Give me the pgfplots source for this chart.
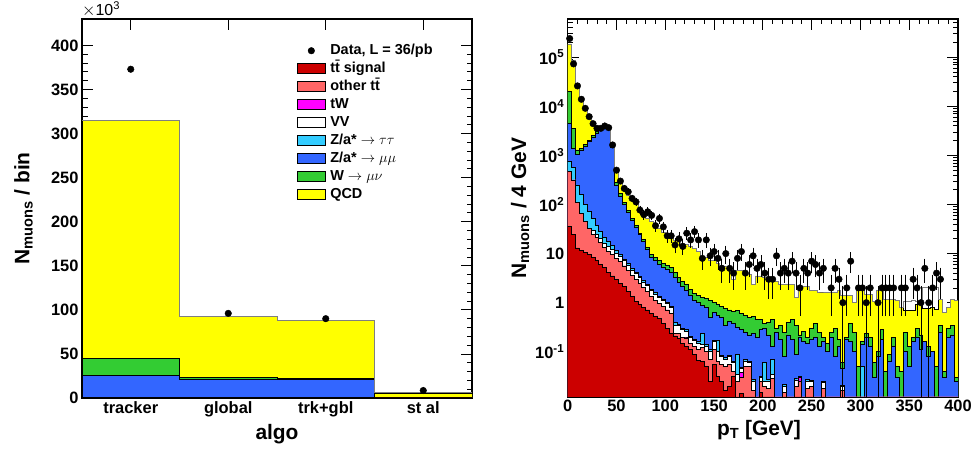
\documentclass[border=0pt]{standalone}
\usepackage{fontspec}
\setmainfont{Liberation Sans}
\usepackage{pgfplots}
\usepackage{pgfplotstable}
\pgfplotsset{compat=1.18}
\definecolor{cSig}{HTML}{CC0000}
\definecolor{cOtt}{HTML}{FF6666}
\definecolor{cTW}{HTML}{FF00FF}
\definecolor{cZtt}{HTML}{33CCFF}
\definecolor{cZmm}{HTML}{3366FF}
\definecolor{cW}{HTML}{33CC33}
\definecolor{cQCD}{HTML}{FFFF00}
\definecolor{cTot}{HTML}{7F7F7F}

\pgfplotstableread{
x T Y G B R
-0.5 315 315 44.5 26 0.8
0.5 92.5 92.5 23.5 21.5 0.2
1.5 87.5 87.5 22 21 0.2
2.5 6.3 4.8 0.4 0.3 0.05
3.5 6.3 4.8 0.4 0.3 0.05
}\algo

\pgfplotstableread{
x T Y G B L V M S R
0 186000 186000 20000 4470 740 470 470 470 35
4 85000 85000 3500 1380 560 316 316 316 25
8 29500 29500 1290 1050 250 112 112 112 13
12 14500 14500 1380 1260 160 66 66 66 11.5
16 9100 9100 1660 1550 100 45 45 45 10.5
20 6600 6600 2040 1900 71 32 32 32 9.5
24 4200 4200 2510 2340 52 29 25 25 8.3
28 3550 3550 3020 2820 38 25 21 21 7.1
32 3470 3470 3390 3240 28 20 16.6 16.6 6.0
36 3900 3900 3800 3630 21 16 13.2 13.2 5.2
40 3900 3900 3720 3590 18 14 11.2 11.2 4.2
44 1620 1620 1550 1480 14.5 12 9.5 9.5 3.5
48 470 470 282 250 11.5 10 7.9 7.9 3.0
52 270 270 166 148 9.5 8.7 6.9 6.9 2.5
56 195 195 112 100 7.6 7.1 5.6 5.6 2.1
60 155 155 76 68 6.2 5.8 4.5 4.5 1.66
64 123 123 52 47 5.0 4.6 3.6 3.6 1.32
68 98 98 38 34 4.2 3.9 3.0 3.0 1.07
72 76 76 26 24 3.4 3.2 2.5 2.5 0.93
76 60 60 19 17.4 2.8 2.6 2.0 2.0 0.79
80 51 51 13.2 12 2.35 2.2 1.66 1.66 0.71
84 45 45 9.5 8.5 1.9 1.8 1.35 1.35 0.6
88 38 38 8.3 7.2 1.6 1.5 1.12 1.12 0.52
92 32 32 7.2 6.0 1.35 1.25 0.95 0.95 0.47
96 27.5 27.5 6.3 5.2 1.18 1.1 0.83 0.83 0.38
100 23.4 23.4 5.8 4.7 1.0 0.95 0.71 0.71 0.3
104 21.9 21.9 5.2 4.2 0.85 0.8 0.6 0.6 0.24
108 18.6 18.6 4.2 3.3 0.4 0.34 0.24 0.24 0.21
112 17.4 17.4 3.3 2.6 0.36 0.34 0.24 0.24 0.19
116 15.8 15.8 2.7 2.1 0.3 0.28 0.2 0.2 0.15
120 15.1 15.1 2.4 1.8 0.28 0.26 0.2 0.19 0.126
124 14.1 14.1 1.9 1.4 0.21 0.2 0.15 0.15 0.11
128 12.6 12.6 1.55 1.12 0.18 0.17 0.126 0.126 0.09
132 11.2 11.2 1.38 1.0 0.16 0.15 0.11 0.11 0.068
136 8.9 8.9 1.26 0.89 0.24 0.14 0.12 0.12 0.063
140 8.5 8.5 1.2 0.79 0.14 0.13 0.1 0.1 0.05
144 7.4 7.4 1.12 0.51 0.11 0.1 0.07 0.07 0.025
148 7.1 7.1 1.0 0.63 0.17 0.16 0.11 0.11 0.056
152 6.3 6.3 0.91 0.56 0.17 0.1 0.063 0.063 0.032
156 5.8 5.8 0.83 0.5 0.085 0.08 0.056 0.056 0.025
160 5.5 5.5 0.76 0.35 0.075 0.07 0.05 0.05 0.016
164 5.2 5.2 0.71 0.42 0.085 0.08 0.056 0.056 0.02
168 3.0 3.0 0.66 0.38 0.065 0.06 0.04 0.04 0.032
172 4.6 4.6 0.69 0.32 0.09 0.035 0.025 0.025 0.001
176 4.5 4.5 0.6 0.28 0.048 0.045 0.038 0.03 0.014
180 4.2 4.2 0.56 0.25 0.07 0.065 0.05 0.05 0.001
184 3.8 3.8 0.5 0.22 0.065 0.06 0.05 0.05 0.001
188 2.4 2.4 0.52 0.24 0.027 0.025 0.016 0.016 0.001
192 3.5 3.5 0.45 0.2 0.001 0.001 0.001 0.001 0.001
196 3.5 3.5 0.45 0.28 0.032 0.03 0.025 0.025 0.015
200 3.3 3.3 0.38 0.3 0.06 0.025 0.02 0.02 0.001
204 2.8 2.8 0.4 0.22 0.027 0.025 0.018 0.018 0.001
208 2.75 2.75 0.45 0.13 0.07 0.035 0.028 0.028 0.001
212 2.7 2.7 0.3 0.25 0.001 0.001 0.001 0.001 0.001
216 2.4 2.4 0.35 0.18 0.001 0.001 0.001 0.001 0.001
220 2.35 2.35 0.25 0.08 0.022 0.02 0.015 0.015 0.001
224 2.4 2.4 0.4 0.22 0.001 0.001 0.001 0.001 0.001
228 2.3 2.3 0.45 0.18 0.001 0.001 0.001 0.001 0.001
232 1.25 1.25 0.35 0.09 0.028 0.026 0.02 0.02 0.001
236 2.2 2.2 0.22 0.2 0.032 0.03 0.03 0.025 0.001
240 2.15 2.15 0.26 0.16 0.001 0.001 0.001 0.001 0.001
244 2.1 2.1 0.2 0.15 0.027 0.025 0.018 0.018 0.001
248 1.8 1.8 0.3 0.18 0.026 0.025 0.02 0.02 0.001
252 1.8 1.8 0.38 0.2 0.001 0.001 0.001 0.001 0.001
256 1.65 1.65 0.25 0.13 0.001 0.001 0.001 0.001 0.001
260 1.65 1.65 0.2 0.16 0.025 0.024 0.018 0.018 0.001
264 1.6 1.6 0.15 0.1 0.001 0.001 0.001 0.001 0.001
268 1.65 1.65 0.25 0.2 0.001 0.001 0.001 0.001 0.001
272 1.6 1.6 0.3 0.08 0.001 0.001 0.001 0.001 0.001
276 1.8 1.8 0.18 0.13 0.001 0.001 0.001 0.001 0.001
280 1.4 1.4 0.06 0.045 0.021 0.02 0.016 0.016 0.001
284 1.4 1.4 0.2 0.18 0.001 0.001 0.001 0.001 0.001
288 1.4 1.4 0.38 0.16 0.001 0.001 0.001 0.001 0.001
292 1.0 1.0 0.25 0.1 0.001 0.001 0.001 0.001 0.001
296 1.8 1.8 0.05 0.001 0.001 0.001 0.001 0.001 0.001
300 1.75 1.75 0.16 0.14 0.05 0.001 0.001 0.001 0.001
304 1.5 1.5 0.24 0.2 0.001 0.001 0.001 0.001 0.001
308 1.5 1.5 0.2 0.13 0.001 0.001 0.001 0.001 0.001
312 1.07 1.07 0.06 0.03 0.001 0.001 0.001 0.001 0.001
316 1.8 1.8 0.1 0.08 0.001 0.001 0.001 0.001 0.001
320 1.75 1.75 0.28 0.18 0.001 0.001 0.001 0.001 0.001
324 1.18 1.18 0.04 0.001 0.001 0.001 0.001 0.001 0.001
328 1.15 1.15 0.09 0.065 0.001 0.001 0.001 0.001 0.001
332 1.15 1.15 0.2 0.13 0.001 0.001 0.001 0.001 0.001
336 1.12 1.12 0.05 0.03 0.001 0.001 0.001 0.001 0.001
340 0.8 0.8 0.04 0.001 0.001 0.001 0.001 0.001 0.001
344 1.05 0.7 0.25 0.1 0.001 0.001 0.001 0.001 0.001
348 1.05 0.68 0.13 0.05 0.001 0.001 0.001 0.001 0.001
352 1.1 0.7 0.2 0.16 0.001 0.001 0.001 0.001 0.001
356 1.05 0.93 0.3 0.2 0.001 0.001 0.001 0.001 0.001
360 1.1 0.9 0.22 0.11 0.001 0.001 0.001 0.001 0.001
364 2.0 0.76 0.16 0.16 0.001 0.001 0.001 0.001 0.001
368 2.0 0.76 0.13 0.08 0.001 0.001 0.001 0.001 0.001
372 1.9 0.8 0.1 0.1 0.001 0.001 0.001 0.001 0.001
376 2.0 0.72 0.05 0.001 0.001 0.001 0.001 0.001 0.001
380 1.15 1.15 0.35 0.25 0.001 0.001 0.001 0.001 0.001
384 0.63 0.63 0.04 0.03 0.001 0.001 0.001 0.001 0.001
388 0.8 0.8 0.3 0.2 0.001 0.001 0.001 0.001 0.001
392 1.15 1.15 0.35 0.22 0.001 0.001 0.001 0.001 0.001
396 1.1 1.1 0.03 0.025 0.001 0.001 0.001 0.001 0.001
400 1.1 1.1 0.03 0.025 0.001 0.001 0.001 0.001 0.001
}\mc

\pgfplotstableread{
x D ep em
2 240000 490 490
6 73000 270 270
10 26000 161 161
14 13900 118 118
18 9100 95 95
22 6150 78 78
26 4430 67 67
30 3560 60 60
34 3560 60 60
38 3970 63 63
42 3670 61 61
46 1630 40 40
50 500 22 22
54 300 17 17
58 212 15 15
62 181 13 13
66 133 12 12
70 113 11 11
74 77 9 9
78 62 8 8
82 71 8.4 8.4
86 60 7.7 7.7
90 37 6.1 6.1
94 52 7.2 7.2
98 35 5.9 5.9
102 23 4.8 4.8
106 23 4.8 4.8
110 15 3.9 3.9
114 20 4.5 4.5
118 14 3.7 3.7
122 26 5.1 5.1
126 19 4.4 4.4
130 28 5.3 5.3
134 19 4.4 4.4
138 8 2.8 2.8
142 19 4.4 4.4
146 9 3 3
150 11 3.3 3.3
154 8 2.8 2.8
158 5 2.2 2.2
162 10 3.2 3.2
166 5 2.2 2.2
170 4 2 2
174 8 2.8 2.8
178 11 3.3 3.3
182 4 2 2
186 6 2.4 2.4
190 9 3 3
194 5 2.2 2.2
198 6 2.4 2.4
202 4 2 2
206 3 1.7 1.7
210 3 1.7 1.7
214 9 3 3
218 4 2 2
222 5 2.2 2.2
226 4 2 2
230 7 2.6 2.6
234 4 2 2
238 2 1.4 1.4
242 5 2.2 2.2
246 4 2 2
250 7 2.6 2.6
254 6 2.4 2.4
258 4 2 2
262 5 2.2 2.2
270 2 1.4 1.4
274 5 2.2 2.2
278 3 1.7 1.7
282 1 1 0.987
286 2 1.4 1.4
290 7 2.6 2.6
298 2 1.4 1.4
302 2 1.4 1.4
306 1 1 0.987
310 2 1.4 1.4
318 1 1 0.987
322 2 1.4 1.4
326 2 1.4 1.4
330 2 1.4 1.4
334 2 1.4 1.4
342 2 1.4 1.4
346 2 1.4 1.4
354 3 1.7 1.7
358 2 1.4 1.4
362 1 1 0.987
366 5 2.2 2.2
370 1 1 0.987
374 2 1.4 1.4
378 4 2 2
382 3 1.7 1.7
}\dat

\pgfplotsset{
  rootaxis/.style={scale only axis, anchor=south west,
    axis line style={line width=1.3bp},
    xtick pos=both, ytick pos=both, tick align=inside,
    tick style={line width=0.8bp, black},
    major tick length=11bp, minor tick length=5.5bp,
    tick label style={font=\fontsize{16.5}{18}\selectfont\bfseries},
    /pgf/number format/assume math mode=true,
    label style={font=\fontsize{21}{24}\selectfont\bfseries}},
  stk/.style={const plot, draw=black, line width=0.9bp, fill=#1, forget plot},
  boxleg/.style={legend image code/.code={\draw[##1] (0bp,-5bp) rectangle (28bp,5bp);}},
  dotleg/.style={legend image code/.code={\draw[mark repeat=2,mark phase=2,##1] plot coordinates {(0bp,0bp) (14bp,0bp) (28bp,0bp)};}},
}

\begin{document}
\begin{tikzpicture}[x=1bp,y=1bp]
\path[use as bounding box] (0,0) rectangle (976,452);

% ---------------- left panel ----------------
\begin{axis}[rootaxis, at={(82bp,54bp)}, width=390bp, height=379bp,
  xmin=-0.5, xmax=3.5, ymin=0, ymax=430,
  xtick={0,1,2,3}, xticklabels={tracker,global,trk+gbl,st al},
  ytick={0,50,...,400}, minor y tick num=4,
  xlabel={algo}, ylabel={N\textsubscript{muons} / bin},
  xlabel style={at={(axis description cs:0.5,-0.0963)}, anchor=center},
  ylabel style={at={(axis description cs:-0.15,0.5)}, anchor=center},
  legend style={at={(axis description cs:0.551,0.94)}, anchor=north west,
    draw=none, fill=none, font=\fontsize{14.5}{16}\selectfont\bfseries,
    inner sep=0pt, outer sep=0pt, row sep=0pt, column sep=3bp,
    nodes={inner sep=1.5bp, text height=11bp, text depth=4bp}},
  legend cell align=left,
]
\addlegendimage{dotleg, only marks, mark=*, mark size=3.3bp, black}
\addlegendentry{Data, L = 36/pb}
\addlegendimage{boxleg, fill=cSig, draw=black, line width=0.9bp}
\addlegendentry{t\=t signal}
\addlegendimage{boxleg, fill=cOtt, draw=black, line width=0.9bp}
\addlegendentry{other t\=t}
\addlegendimage{boxleg, fill=cTW, draw=black, line width=0.9bp}
\addlegendentry{tW}
\addlegendimage{boxleg, fill=white, draw=black, line width=0.9bp}
\addlegendentry{VV}
\addlegendimage{boxleg, fill=cZtt, draw=black, line width=0.9bp}
\addlegendentry{Z/a* $\rightarrow\tau\tau$}
\addlegendimage{boxleg, fill=cZmm, draw=black, line width=0.9bp}
\addlegendentry{Z/a* $\rightarrow\mu\mu$}
\addlegendimage{boxleg, fill=cW, draw=black, line width=0.9bp}
\addlegendentry{W $\rightarrow\mu\nu$}
\addlegendimage{boxleg, fill=cQCD, draw=black, line width=0.9bp}
\addlegendentry{QCD}

\addplot[stk=cQCD] table[x=x,y=Y]{\algo} \closedcycle;
\addplot[stk=cW] table[x=x,y=G]{\algo} \closedcycle;
\addplot[stk=cZmm] table[x=x,y=B]{\algo} \closedcycle;
\addplot[stk=cSig] table[x=x,y=R]{\algo} \closedcycle;
\addplot[const plot, draw=cTot, line width=0.9bp, forget plot] table[x=x,y=T]{\algo};
\addplot[only marks, mark=*, mark size=3.3bp, black, forget plot] coordinates {(0,373) (1,96) (2,90) (3,8.5)};
\end{axis}
\node[anchor=base west, inner sep=0pt, font=\fontsize{16}{18}\selectfont] at (82,436) {$\times$10\textsuperscript{3}};

% ---------------- right panel ----------------
\begin{axis}[rootaxis, at={(567.7bp,55bp)}, width=390.3bp, height=378bp,
  ymode=log, log origin y=infty, xmin=0, xmax=400, ymin=0.012, ymax=6e5,
  xtick={0,50,...,400}, minor x tick num=4,
  ytick={0.1,1,10,100,1000,10000,100000},
  yticklabels={10\textsuperscript{-1},1,10,10\textsuperscript{2},10\textsuperscript{3},10\textsuperscript{4},10\textsuperscript{5}},
  minor ytick={0.02,0.03,0.04,0.05,0.06,0.07,0.08,0.09,
    0.2,0.3,0.4,0.5,0.6,0.7,0.8,0.9,
    2,3,4,5,6,7,8,9,
    20,30,40,50,60,70,80,90,
    200,300,400,500,600,700,800,900,
    2000,3000,4000,5000,6000,7000,8000,9000,
    20000,30000,40000,50000,60000,70000,80000,90000,
    200000,300000,400000,500000},
  xlabel={p\textsubscript{T} [GeV]}, ylabel={N\textsubscript{muons} / 4 GeV},
  xlabel style={at={(axis description cs:0.49,-0.088)}, anchor=center},
  ylabel style={at={(axis description cs:-0.122,0.5)}, anchor=center},
]
\addplot[stk=cQCD] table[x=x,y=Y]{\mc} \closedcycle;
\addplot[stk=cW] table[x=x,y=G]{\mc} \closedcycle;
\addplot[stk=cZmm] table[x=x,y=B]{\mc} \closedcycle;
\addplot[stk=cZtt] table[x=x,y=L]{\mc} \closedcycle;
\addplot[stk=white] table[x=x,y=V]{\mc} \closedcycle;
\addplot[stk=cTW] table[x=x,y=M]{\mc} \closedcycle;
\addplot[stk=cOtt] table[x=x,y=S]{\mc} \closedcycle;
\addplot[stk=cSig] table[x=x,y=R]{\mc} \closedcycle;
\addplot[const plot, draw=cTot, line width=0.9bp, forget plot] table[x=x,y=T]{\mc};
\addplot[only marks, mark=*, mark size=3.3bp, black, forget plot,
  error bars/.cd, y dir=both, y explicit,
  error bar style={line width=0.8bp, black},
  error mark options={mark size=2bp, line width=0.8bp, black}]
  table[x=x, y=D, y error plus=ep, y error minus=em]{\dat};
\end{axis}
\end{tikzpicture}
\end{document}
